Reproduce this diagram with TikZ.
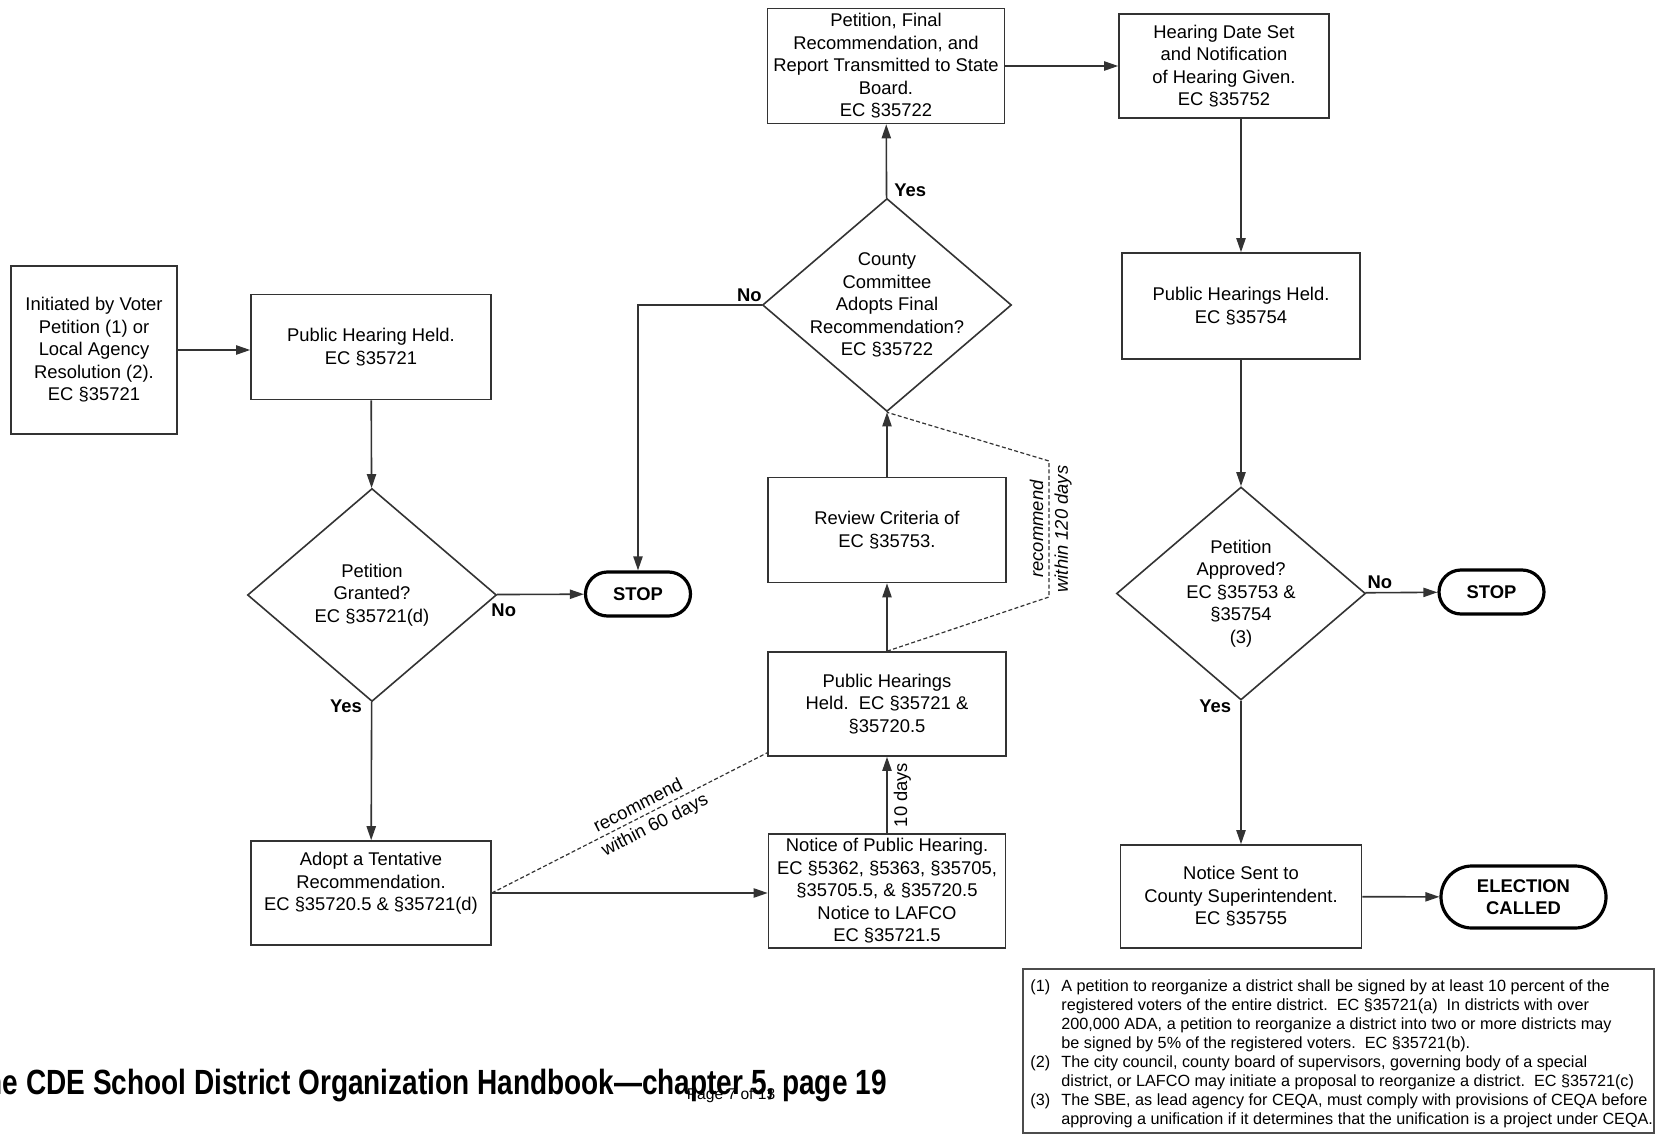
\documentclass[tikz,border=0pt]{standalone}
\usepackage{fontspec}
\setmainfont{Liberation Sans}
\newfontfamily\titlefont[FakeStretch=0.8]{Liberation Sans}
\usetikzlibrary{shapes.geometric,arrows.meta,calc}

\tikzset{
  box/.style={rectangle, draw=black!80, line width=0.8pt, align=center, inner sep=1pt,
    minimum width=119pt, minimum height=52.5pt},
  decision/.style={diamond, draw=black!80, line width=0.8pt, inner sep=0pt,
    minimum width=124.5pt, minimum height=106.5pt},
  terminal/.style={rectangle, draw=black, line width=1.6pt, rounded corners=11pt, align=center,
    font=\fontsize{9.2}{11.25}\selectfont\bfseries, minimum width=52.5pt, minimum height=22pt},
  arr/.style={draw=black!80, line width=0.8pt, -{Triangle[length=7pt,width=4.6pt]}},
  dashline/.style={draw=black!80, line width=0.6pt, dash pattern=on 2pt off 1.2pt},
  yesno/.style={font=\fontsize{9.2}{11.25}\selectfont\bfseries, inner sep=1.5pt},
  slant/.style={font=\fontsize{9.2}{11.25}\selectfont\itshape, inner sep=2.5pt}
}

\begin{document}
\begin{tikzpicture}[x=0.5pt, y=-0.5pt, font=\fontsize{9.2}{11.25}\selectfont]
  % page, measured in pixels of the scan
  \fill[white] (0,0) rectangle (1656,1135);
  \useasboundingbox (0,0) rectangle (1656,1135);

  % Left column
  \node[box, minimum width=83pt, minimum height=84pt] (init) at (94,350)
    {Initiated by Voter\\Petition (1) or\\Local Agency\\Resolution (2).\\EC §35721};
  \node[box, minimum width=120pt] (hear1) at (371,347) {Public Hearing Held.\\EC §35721};
  \node[decision, label={[align=center]center:Petition\\Granted?\\EC §35721(d)}] (grant) at (372,595) {};
  \node[terminal] (stop1) at (638,594) {STOP};
  \node[box, minimum width=120pt, minimum height=52pt] (adopt) at (371,893)
    {Adopt a Tentative\\Recommendation.\\EC §35720.5 \& §35721(d)\\\mbox{}};

  % Middle column
  \node[box, minimum width=118.5pt, minimum height=57pt] (notice) at (887,891)
    {Notice of Public Hearing.\\EC §5362, §5363, §35705,\\§35705.5, \& §35720.5\\Notice to LAFCO\\EC §35721.5};
  \node[box, minimum height=52pt] (phheld) at (887,704) {Public Hearings\\Held.\ \ EC §35721 \&\\§35720.5};
  \node[box] (review) at (887,530) {Review Criteria of\\EC §35753.};
  \node[decision, label={[align=center]center:County\\Committee\\Adopts Final\\Recommendation?\\EC §35722}] (county) at (887,305) {};
  \node[box, minimum width=118.5pt, minimum height=57.5pt] (final) at (886,66)
    {Petition, Final\\Recommendation, and\\Report Transmitted to State\\Board.\\EC §35722};

  % Right column
  \node[box, minimum width=105pt, minimum height=52pt] (hdate) at (1224,66)
    {Hearing Date Set\\and Notification\\of Hearing Given.\\EC §35752};
  \node[box, minimum height=53pt] (phheld2) at (1241,306) {Public Hearings Held.\\EC §35754};
  \node[decision, label={[align=center]center:Petition\\Approved?\\EC §35753 \&\\§35754\\(3)}] (approve) at (1241,593.5) {};
  \node[terminal] (stop2) at (1491.5,592) {STOP};
  \node[box, minimum width=120.5pt, minimum height=51.5pt] (sent) at (1241,896.5)
    {Notice Sent to\\County Superintendent.\\EC §35755};
  \node[terminal, minimum width=82.5pt, minimum height=31pt, rounded corners=15.5pt] (elect) at (1523.5,897)
    {ELECTION\\CALLED};

  % turning points of the dashed 120 day line
  \coordinate (rc1) at (1049,597);
  \coordinate (rc2) at (1049,461);

  % Connectors
  \draw[arr] (init.east) -- (init.east -| hear1.west);
  \draw[arr] (hear1) -- (grant);
  \draw[arr] (grant) -- node[yesno, pos=0.08, below=3pt] {No} (stop1);
  \draw[arr] (grant) -- node[yesno, pos=0.03, left=3pt] {Yes} (adopt);
  \draw[arr] (adopt.east) -- (adopt.east -| notice.west);
  \draw[dashline] (adopt.east)
    -- node[pos=0.55, sloped, above, inner sep=2.5pt] {recommend}
       node[pos=0.57, sloped, below, inner sep=2.5pt] {within 60 days}
    ($(phheld.south west)+(0,-4)$);
  \draw[arr] (notice) -- node[midway, rotate=90, anchor=north, inner sep=3pt] {10 days} (phheld);
  \draw[arr] (phheld) -- (review);
  \draw[arr] (review) -- (county);
  \draw[dashline] (phheld.north) -- (rc1)
    -- node[midway, slant, rotate=90, anchor=south] {recommend}
       node[midway, slant, rotate=90, anchor=north] {within 120 days} (rc2)
    -- (county.south);
  \draw[arr] (county) -- node[yesno, pos=0.1, right=2pt] {Yes} (final);
  \draw[arr] (county.west) -| node[yesno, pos=0.05, above] {No} (stop1.north);
  \draw[arr] (final) -- (hdate);
  \draw[arr] (hdate.south -| phheld2.north) -- (phheld2.north);
  \draw[arr] (phheld2) -- (approve);
  \draw[arr] (approve) -- node[yesno, pos=0.2, above] {No} (stop2);
  \draw[arr] (approve) -- node[yesno, pos=0.04, left=3pt] {Yes} (sent);
  \draw[arr] (sent) -- (elect);

  % Footnotes
  \draw[black!70, line width=0.6pt] (1023,969) rectangle (1654,1133);
  \node[anchor=north west, inner sep=0pt, font=\fontsize{8.1}{9.5}\selectfont] (notes) at (1030,977.5)
    {\begin{tabular}{@{}l@{\hspace{5.6pt}}l@{}}
      (1) & A petition to reorganize a district shall be signed by at least 10 percent of the\\
          & registered voters of the entire district.\ \ EC §35721(a)\ \ In districts with over\\
          & 200,000 ADA, a petition to reorganize a district into two or more districts may\\
          & be signed by 5\% of the registered voters.\ \ EC §35721(b).\\
      (2) & The city council, county board of supervisors, governing body of a special\\
          & district, or LAFCO may initiate a proposal to reorganize a district.\ \ EC §35721(c)\\
      (3) & The SBE, as lead agency for CEQA, must comply with provisions of CEQA before\\
          & approving a unification if it determines that the unification is a project under CEQA.
    \end{tabular}};

  % Page footer
  \begin{scope}
    \clip (0,0) rectangle (1656,1135);
    \node[anchor=base east, inner sep=0pt, font=\titlefont\bfseries\fontsize{17.5}{20}\selectfont] (title) at (887,1094)
      {the CDE School District Organization Handbook—chapter 5, page 19};
  \end{scope}
  \node[anchor=base, inner sep=0pt, font=\fontsize{7.8}{9}\selectfont] (pageno) at (731,1099) {Page 7 of 13};
\end{tikzpicture}
\end{document}
